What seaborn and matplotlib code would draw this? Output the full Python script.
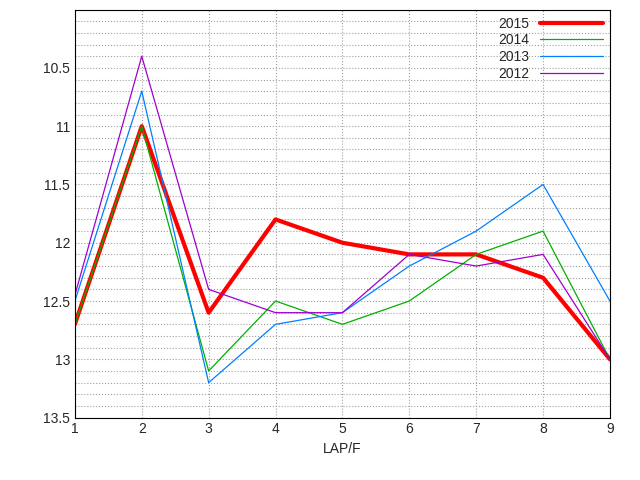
import matplotlib
matplotlib.use('Agg')
import matplotlib.pyplot as plt
import numpy as np
import pandas as pd
import seaborn as sns
from matplotlib.ticker import MultipleLocator

sns.set_style('white')
plt.rcParams['font.family'] = ['Liberation Sans', 'DejaVu Sans']

laps = [1, 2, 3, 4, 5, 6, 7, 8, 9]
y2015 = [12.7, 11.0, 12.6, 11.8, 12.0, 12.1, 12.1, 12.3, 13.0]
y2014 = [12.7, 11.0, 13.1, 12.5, 12.7, 12.5, 12.1, 11.9, 13.0]
y2013 = [12.5, 10.7, 13.2, 12.7, 12.6, 12.2, 11.9, 11.5, 12.5]
y2012 = [12.45, 10.4, 12.4, 12.6, 12.6, 12.1, 12.2, 12.1, 13.0]

series = [('2015', y2015, '#ff0000', 3), ('2014', y2014, '#00b000', 0.9),
          ('2013', y2013, '#0080ff', 0.9), ('2012', y2012, '#a000d0', 0.9)]

fig, ax = plt.subplots(figsize=(6.4, 4.8), dpi=100)
fig.subplots_adjust(left=0.117, right=0.953, top=0.98, bottom=0.13)
for name, vals, col, lw in series:
    df = pd.DataFrame({'lap': laps, 't': vals})
    sns.lineplot(data=df, x='lap', y='t', ax=ax, color=col, linewidth=lw, label=name)

ax.set_xlim(1, 9)
ax.set_ylim(13.5, 10.0)
ax.set_yticks([10.5, 11, 11.5, 12, 12.5, 13, 13.5])
ax.set_yticklabels(['10.5', '11', '11.5', '12', '12.5', '13', '13.5'])
ax.yaxis.set_minor_locator(MultipleLocator(0.1))
ax.set_xticks(laps)
ax.grid(True, which='both', axis='y', color='#a0a0a0', linestyle=':', linewidth=0.8)
ax.grid(True, which='major', axis='x', color='#a0a0a0', linestyle=':', linewidth=0.8)
ax.tick_params(which='both', direction='in', length=4, labelsize=10)
ax.tick_params(which='minor', length=2)
for s in ax.spines.values():
    s.set_color('black')
    s.set_linewidth(0.8)
ax.set_xlabel('LAP/F', fontsize=10)
ax.set_ylabel('')
leg = ax.legend(loc='upper right', frameon=False, fontsize=10, markerfirst=False,
                handlelength=4.5, borderaxespad=0.1, labelspacing=0.2)
fig.savefig('out.png', dpi=100)
